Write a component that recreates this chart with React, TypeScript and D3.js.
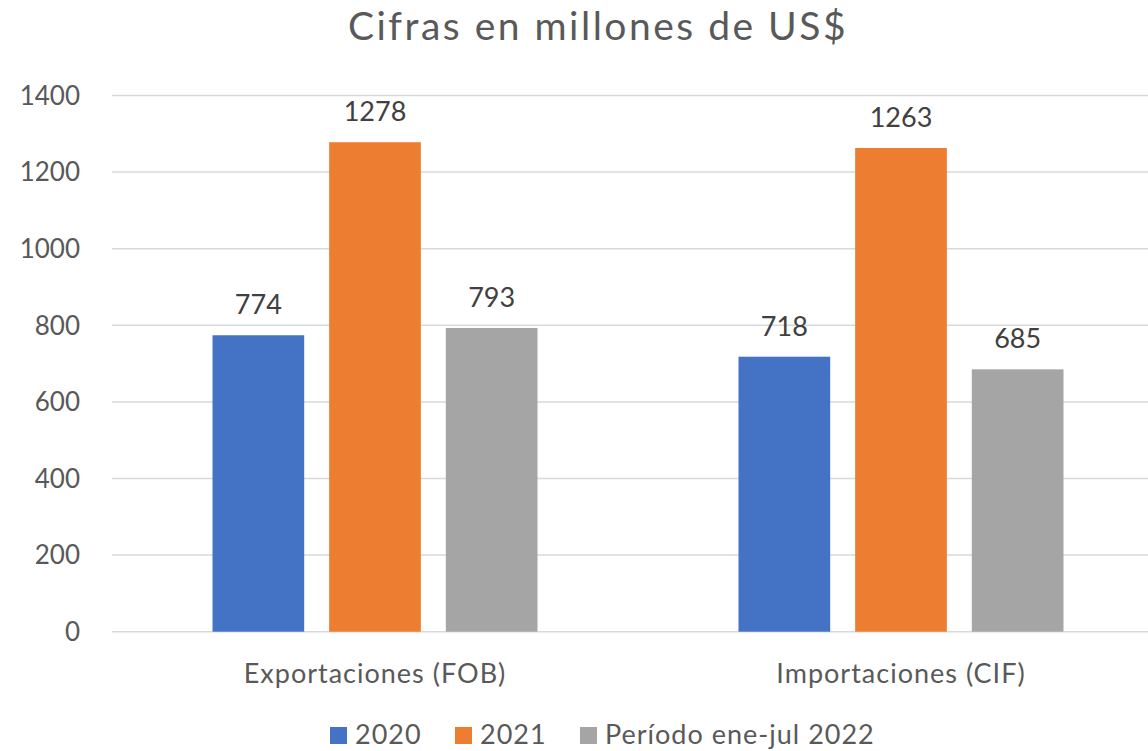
import React from "react";
import * as d3 from "d3";

const categories = ["Exportaciones (FOB)", "Importaciones (CIF)"];
const seriesNames = ["2020", "2021", "Período ene-jul 2022"];
const values2020 = [774, 718];
const values2021 = [1278, 1263];
const values2022 = [793, 685];
const yTicks = [0, 200, 400, 600, 800, 1000, 1200, 1400];

const colors = ["#4472C4", "#ED7D31", "#A5A5A5"];
const font = "Lato, 'Open Sans', sans-serif";
const textColor = "#595959";

const App = () => {
  const width = 1148;
  const height = 751;
  const margin = { top: 95.5, bottom: 119.3, left: 112, right: -16 };

  const series = [values2020, values2021, values2022];

  const xScale = d3
    .scaleBand()
    .domain(categories)
    .range([margin.left, width - margin.right])
    .paddingInner(0)
    .paddingOuter(0);

  // bars inside one category
  const inner = d3
    .scaleBand()
    .domain(seriesNames)
    .range([100.5, xScale.bandwidth() - 100.5])
    .paddingInner(0.214)
    .paddingOuter(0);

  const yScale = d3
    .scaleLinear()
    .domain([0, 1400])
    .range([height - margin.bottom, margin.top]);

  const legendX = [330, 455, 580];

  return (
    <svg
      width={width}
      height={height}
      style={{ position: "absolute", left: 0, top: 0, background: "#fff" }}
      fontFamily={font}
    >
      <text
        x={598}
        y={40}
        textAnchor="middle"
        fontSize={39}
        letterSpacing={2.5}
        fill={textColor}
      >
        Cifras en millones de US$
      </text>

      <g>
        {yTicks.map((t) => (
          <g key={t}>
            <line
              x1={margin.left}
              x2={width}
              y1={yScale(t)}
              y2={yScale(t)}
              stroke="#D9D9D9"
              strokeWidth={1.5}
            />
            <text
              x={80}
              y={yScale(t)}
              dy="0.36em"
              textAnchor="end"
              fontSize={26}
              fill={textColor}
            >
              {t}
            </text>
          </g>
        ))}
      </g>

      {categories.map((c, ci) => (
        <g key={c} transform={`translate(${xScale(c)},0)`}>
          {series.map((vals, si) => (
            <g key={si}>
              <rect
                x={inner(seriesNames[si])}
                y={yScale(vals[ci])}
                width={inner.bandwidth()}
                height={yScale(0) - yScale(vals[ci])}
                fill={colors[si]}
              />
              <text
                x={(inner(seriesNames[si]) as number) + inner.bandwidth() / 2}
                y={yScale(vals[ci]) - 21}
                textAnchor="middle"
                fontSize={27}
                fill="#404040"
              >
                {vals[ci]}
              </text>
            </g>
          ))}
          <text
            x={xScale.bandwidth() / 2}
            y={683}
            textAnchor="middle"
            fontSize={27}
            letterSpacing={1}
            fill={textColor}
          >
            {c}
          </text>
        </g>
      ))}

      <g>
        {seriesNames.map((s, i) => (
          <g key={s}>
            <rect x={legendX[i]} y={727} width={17} height={17} fill={colors[i]} />
            <text
              x={legendX[i] + 25}
              y={744}
              fontSize={27}
              letterSpacing={1}
              fill={textColor}
            >
              {s}
            </text>
          </g>
        ))}
      </g>
    </svg>
  );
};

export default App;
